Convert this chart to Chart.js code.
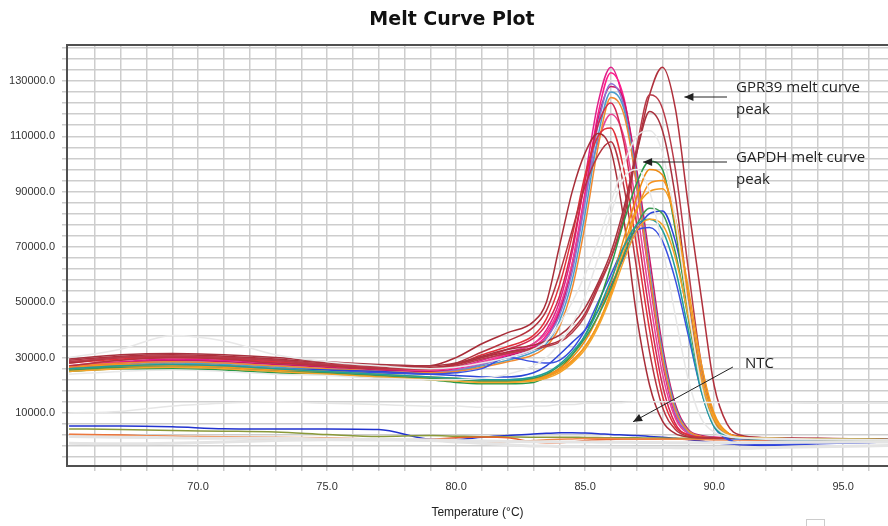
<!DOCTYPE html>
<html>
<head>
<meta charset="utf-8">
<script src="https://cdn.jsdelivr.net/npm/chart.js@4.4.1/dist/chart.umd.min.js"></script>
<style>
  html, body { margin: 0; padding: 0; background: #fff; }
  canvas { display: block; }
</style>
</head>
<body>
<canvas id="melt" width="888" height="526"></canvas>
<script>
// temperature steps (°C), shared by every well
const temps = [65, 67, 69, 71, 73, 75, 77, 79, 80, 81, 82, 83, 83.5, 84, 84.5, 85, 85.5, 86, 86.5, 87, 87.5, 88, 88.5, 89, 89.5, 90, 90.5, 91, 92, 94, 96.8];

// -dF/dT per well, in thousands
// faint grey (unselected wells)
const gray1 = [-1, -1.2, -1, -0.5, 0, 0.3, 0.2, 0, -0.5, -1, -1.5, -2, -2, -2.2, -2.2, -2.3, -2.3, -2.4, -2.4, -2.5, -2.5, -2.5, -2.6, -2.6, -2.7, -2.8, -2.8, -2.8, -2.6, -2.2, -1.8];
const gray2 = [10, 10.5, 12.5, 13.5, 14, 13.5, 13, 12.5, 12.5, 12, 12, 12.5, 12.5, 13, 13, 13.5, 13.5, 13.5, 13.8, 14, 14, 14, 14, 14, 13.8, 13.8, 13.7, 13.7, 13.7, 13.5, 13.5];
const gray3 = [30, 33, 38, 36, 31, 28.5, 27, 26, 26.5, 28, 30, 33, 36, 42, 50, 60, 72, 86, 100, 110, 112, 104, 80, 48, 20, 6, 2, 1, 0.8, 0.5, 0.3];
const gray4 = [24, 25, 25.5, 25, 24, 23.5, 22.5, 22, 22, 22.5, 24, 27, 30, 35, 42, 52, 66, 82, 95, 98, 90, 70, 45, 22, 8, 3, 1.5, 1, 0.5, 0.3, 0.2];
const gray5 = [1.5, 1.2, 1, 0.8, 0.8, 0.6, 0.4, 0.2, 0, -0.2, -0.3, -0.4, -0.4, -0.5, -0.5, -0.5, -0.6, -0.6, -0.6, -0.7, -0.7, -0.7, -0.8, -0.8, -0.8, -0.8, -0.8, -0.8, -0.7, -0.6, -0.5];

// GAPDH wells (peak ~87.5 °C)
const gapdh1 = [25, 26, 26, 25.5, 24.5, 24, 23, 22, 21, 20.5, 20.5, 21, 23, 26, 31, 38, 49, 63, 79, 93, 101, 98, 76, 46, 20, 6, 2, 1, 0.8, 0.6, 0.4];
const gapdh2 = [26, 27, 27, 26.5, 25.5, 24.5, 23.5, 22.5, 22, 21.5, 21.5, 22, 23.5, 26, 30, 36, 45, 57, 73, 88, 98, 96, 78, 48, 22, 7, 2.5, 1.2, 0.8, 0.5, 0.3];
const gapdh3 = [26.5, 27.5, 27.5, 27, 26, 25, 24, 23, 22.5, 22, 22, 22.5, 23.5, 25.5, 29, 34, 42, 53, 68, 83, 93, 94, 80, 52, 25, 9, 3, 1.3, 0.8, 0.5, 0.3];
const gapdh4 = [25.5, 26.5, 26.5, 26, 25, 24.5, 23.5, 22.5, 22, 21.5, 21.5, 22.5, 24, 27, 31, 37, 45, 55, 67, 78, 84, 82, 68, 44, 20, 6, 2, 1, 0.7, 0.5, 0.3];
const gapdh5 = [26, 27, 27.5, 27, 26, 25.5, 25, 24, 23.5, 23, 23, 24.5, 27, 31, 35.5, 40, 47, 56, 66, 76, 82, 83, 72, 50, 25, 8, 1, -1, -1.5, -1, -0.5];
const gapdh6 = [25.5, 26.5, 27, 26.5, 25.5, 25, 24.5, 24, 24.5, 26, 30, 28.5, 28, 29, 33, 40, 50, 60, 70, 76, 77, 72, 58, 38, 18, 5, 0.5, -1, -1.5, -1, -0.5];
const gapdh7 = [25, 26, 26.5, 26, 25, 24, 23, 22, 21.5, 21, 21, 21.5, 22.5, 24.5, 28, 33, 41, 52, 65, 76, 80, 78, 66, 45, 22, 8, 2.5, 1.2, 0.8, 0.5, 0.3];
const gapdh8 = [26, 27, 27.5, 27, 26, 25, 24, 23, 22.5, 22, 22, 23, 24.5, 27.5, 32, 38, 47, 58, 70, 78, 80, 76, 62, 40, 18, 5, 1.5, 0.8, 0.5, 0.3, 0.2];
const gapdh9 = [25.5, 26.5, 27, 26.5, 25.5, 24.5, 23.5, 22.5, 22, 21.5, 21.5, 22, 23, 25, 28.5, 34, 42, 54, 70, 84, 90, 91, 80, 55, 28, 10, 3, 1.2, 0.8, 0.5, 0.3];

// GPR39 wells, late dark red group (peak ~88 °C)
const late1 = [29, 30.5, 31, 30.5, 29.5, 28, 27, 26.5, 27.5, 30, 32, 33.5, 34.5, 36, 40, 46, 56, 66, 80, 104, 125, 135, 120, 85, 52, 20, 6, 2, 1, 0.8, 0.5];
const late2 = [28.5, 30, 30.5, 30, 29, 27.5, 26.5, 26, 27, 29.5, 31.5, 33, 34, 35.5, 39, 45, 55, 66, 82, 106, 125, 120, 98, 62, 28, 9, 3, 1.5, 1, 0.7, 0.4];
const late3 = [29.5, 31, 31.5, 31, 30, 28.5, 27.5, 27, 28, 30.5, 33, 34.5, 36, 38, 42, 48, 57, 68, 84, 104, 119, 112, 88, 52, 22, 7, 2.5, 1.5, 1, 0.6, 0.3];

// GPR39 wells (peak ~86 °C)
const early1 = [28, 30, 30.5, 30, 29, 27.5, 26.5, 27, 30, 35, 39, 43, 50, 70, 90, 104, 111, 105, 80, 45, 20, 7, 2.5, 1.3, 1, 0.9, 0.8, 0.8, 0.7, 0.5, 0.3];
const early2 = [27, 29, 30, 29.5, 28, 27, 26, 26, 28, 32, 36, 41, 47, 60, 76, 92, 103, 108, 92, 62, 32, 12, 4, 1.5, 1, 0.9, 0.8, 0.8, 0.7, 0.5, 0.3];
const gpr1 = [27, 28.5, 29.5, 29, 28, 27, 26, 25.5, 26.5, 29, 32, 35, 40, 50, 68, 95, 122, 135, 122, 92, 58, 28, 9, 3, 1.5, 1, 1, 0.8, 0.6, 0.4, 0.2];
const gpr2 = [26.5, 28, 29, 28.5, 27.5, 26.5, 25.5, 25, 26, 28, 31, 34, 38, 47, 64, 90, 118, 133, 124, 96, 62, 31, 11, 3.5, 1.5, 1.2, 1, 0.9, 0.7, 0.5, 0.3];
const gpr3 = [26, 27.5, 28.5, 28, 27, 26, 25, 24.5, 25.5, 27.5, 30, 33, 37, 45, 61, 86, 114, 129, 121, 93, 60, 30, 10, 3, 1.2, 0.8, 0.6, 0.5, 0.4, 0.2, 0];
const gpr4 = [25.5, 27, 28, 27.5, 26.5, 25.5, 24.5, 24, 25, 27, 29, 32, 35, 43, 58, 82, 110, 126, 120, 95, 62, 32, 12, 3.5, 1.5, 1, 0.8, 0.7, 0.5, 0.3, 0.1];
const gpr5 = [27, 28, 28.5, 28, 27, 26, 25, 24.5, 25, 26.5, 28.5, 31, 34, 41, 55, 78, 106, 124, 118, 93, 60, 30, 11, 3.5, 1.5, 1, 0.9, 0.8, 0.6, 0.4, 0.2];
const gpr6 = [28.5, 30, 30.5, 30, 29, 27.5, 26.5, 26, 27.5, 30, 33, 37, 42, 52, 70, 94, 114, 122, 108, 78, 46, 20, 6, 2, 1.2, 1, 0.9, 0.8, 0.6, 0.4, 0.2];
const gpr7 = [27, 29, 30, 29.5, 28.5, 27, 26, 25.5, 26.5, 28.5, 31.5, 35, 39, 48, 64, 88, 108, 118, 110, 84, 52, 24, 8, 2.5, 1.3, 1, 0.9, 0.8, 0.6, 0.4, 0.2];
const gpr8 = [28, 29.5, 30, 29.5, 28.5, 27, 26, 26, 27.5, 31, 34, 38, 44, 56, 74, 96, 110, 113, 98, 70, 40, 16, 5, 2, 1.2, 1, 0.9, 0.8, 0.6, 0.4, 0.2];
const gpr9 = [26, 28, 29, 28.5, 27.5, 26.5, 25.5, 25, 25.5, 27.5, 30.5, 33.5, 37, 46, 63, 88, 116, 128, 123, 98, 66, 34, 13, 4, 1.8, 1.2, 1, 0.9, 0.7, 0.5, 0.3];

// no template controls
const ntc1 = [5.3, 5.3, 5, 4.3, 4.2, 4.2, 4, 0.5, 0.4, 1.2, 1.8, 2.4, 2.6, 2.8, 2.8, 2.7, 2.5, 2.2, 2, 1.8, 1.5, 1.2, 0.8, 0.4, -0.2, -0.8, -1.2, -1.5, -1.8, -1.2, -0.5];
const ntc2 = [4.2, 4, 3.6, 3.4, 3.1, 2.2, 1.5, 1.8, 1.6, 1.4, 1.3, 1.2, 1.2, 1.2, 1.2, 1.1, 1.1, 1, 1, 1, 0.9, 0.9, 0.8, 0.8, 0.7, 0.6, 0.5, 0.5, 0.4, 0.3, 0.1];
const ntc3 = [2.3, 2, 1.5, 1, 0.5, 0.2, 0.2, 0.5, 1, 1.3, 1, -0.5, -0.8, -0.8, -0.5, 0, 0.3, 0.4, 0.5, 0.5, 0.5, 0.5, 0.5, 0.4, 0.4, 0.3, 0.3, 0.3, 0.2, 0, -0.2];
const ntc4 = [2, 1.8, 1.6, 1.4, 1.2, 1, 0.5, 0, -0.3, -0.5, -0.5, 0, 0.3, 0.5, 0.6, 0.7, 0.7, 0.7, 0.6, 0.6, 0.6, 0.5, 0.5, 0.5, 0.4, 0.4, 0.3, 0.3, 0.2, 0.1, 0];

// axis ticks
const xGrid = [66, 67, 68, 69, 70, 71, 72, 73, 74, 75, 76, 77, 78, 79, 80, 81, 82, 83, 84, 85, 86, 87, 88, 89, 90, 91, 92, 93, 94, 95, 96];
const xTickLabels = [70, 75, 80, 85, 90, 95];
const yTickLabels = [10000, 30000, 50000, 70000, 90000, 110000, 130000];
const yGridStep = 4000;

const chartTitle = 'Melt Curve Plot';
const notes = [
  { lines: ['GPR39 melt curve', 'peak'], text: [90.85, 127500], from: [90.5, 124200], to: [88.85, 124200] },
  { lines: ['GAPDH melt curve', 'peak'], text: [90.85, 102100], from: [90.5, 100700], to: [87.25, 100700] },
  { lines: ['NTC'], text: [91.2, 27700], from: [90.73, 26600], to: [86.86, 6800] }
];

// [values, colour, width] in draw order
const wells = [
  [gray2, '#e6e6e6', 1.5], [gray3, '#e8e8e8', 1.5], [gray4, '#e8e8e8', 1.5],
  [gray1, '#e4e4e4', 3], [gray5, '#e4e4e4', 3],
  [gapdh7, '#f5a42a'], [gapdh8, '#1f9e9a'], [gapdh4, '#3c9a55'], [gapdh9, '#f39a1e'],
  [gapdh3, '#f7931e'], [gapdh2, '#ee8a12'], [gapdh1, '#2a9a48'],
  [gapdh6, '#3a4fe0'], [gapdh5, '#2b45d8'],
  [late3, '#a8323e'], [late2, '#b83a48'], [late1, '#b0303c'],
  [early2, '#b5343f'], [early1, '#a82d38'],
  [gpr8, '#e0303a'], [gpr6, '#d4264f'], [gpr5, '#f08a30'], [gpr4, '#4a9ecc'],
  [gpr3, '#8e72d2'], [gpr7, '#e84393'], [gpr9, '#c8196a'], [gpr2, '#ff1a8c'], [gpr1, '#e0218a'],
  [ntc4, '#f0884a'], [ntc3, '#e8602a'], [ntc2, '#8a9a3a'], [ntc1, '#2233d0']
];

const datasets = wells.map(([vals, color, width]) => ({
  data: temps.map((t, i) => ({ x: t, y: vals[i] * 1000 })),
  borderColor: color,
  borderWidth: width || 1.5
}));

const decor = {
  id: 'decor',
  afterDatasetsDraw(chart) {
    const { ctx, chartArea: a, scales: { x, y } } = chart;
    ctx.save();
    // top frame line
    ctx.strokeStyle = '#505050';
    ctx.lineWidth = 2;
    ctx.beginPath();
    ctx.moveTo(a.left, a.top);
    ctx.lineTo(a.right, a.top);
    ctx.stroke();

    // title (sits a bit right of the canvas centre in the original)
    ctx.fillStyle = '#111';
    ctx.font = 'bold 19px "DejaVu Sans"';
    ctx.textAlign = 'center';
    ctx.textBaseline = 'middle';
    ctx.fillText(chartTitle, chart.width / 2 + 8, 20);

    ctx.fillStyle = '#222';
    ctx.strokeStyle = '#222';
    ctx.lineWidth = 1;
    ctx.font = '15px "Open Sans"';
    ctx.textAlign = 'left';
    notes.forEach(n => {
      const tx = x.getPixelForValue(n.text[0]);
      const ty = y.getPixelForValue(n.text[1]);
      n.lines.forEach((s, i) => ctx.fillText(s, tx, ty + i * 22));
      const x0 = x.getPixelForValue(n.from[0]), y0 = y.getPixelForValue(n.from[1]);
      const x1 = x.getPixelForValue(n.to[0]), y1 = y.getPixelForValue(n.to[1]);
      const ang = Math.atan2(y1 - y0, x1 - x0);
      ctx.beginPath();
      ctx.moveTo(x0, y0);
      ctx.lineTo(x1, y1);
      ctx.stroke();
      ctx.beginPath();
      ctx.moveTo(x1, y1);
      ctx.lineTo(x1 - 9 * Math.cos(ang) + 4 * Math.sin(ang), y1 - 9 * Math.sin(ang) - 4 * Math.cos(ang));
      ctx.lineTo(x1 - 9 * Math.cos(ang) - 4 * Math.sin(ang), y1 - 9 * Math.sin(ang) + 4 * Math.cos(ang));
      ctx.closePath();
      ctx.fill();
    });

    // little resize handle left in the screenshot
    ctx.strokeStyle = '#cccccc';
    ctx.strokeRect(806.5, 519.5, 18, 8);
    ctx.restore();
  }
};

const tickFont = { family: 'Liberation Sans', size: 11 };

new Chart(document.getElementById('melt'), {
  type: 'line',
  data: { datasets },
  options: {
    responsive: false,
    devicePixelRatio: 1,
    animation: false,
    layout: { padding: { left: 0, right: 0, top: 45, bottom: 0 } },
    elements: {
      point: { radius: 0 },
      line: { cubicInterpolationMode: 'monotone' }
    },
    plugins: {
      legend: { display: false },
      tooltip: { enabled: false },
      title: { display: false }
    },
    scales: {
      x: {
        type: 'linear',
        min: 64.92,
        max: 96.74,
        afterBuildTicks: ax => { ax.ticks = xGrid.map(v => ({ value: v })); },
        afterFit: ax => { ax.height = 60; },
        ticks: {
          autoSkip: false,
          maxRotation: 0,
          padding: 9,
          color: '#333',
          font: tickFont,
          callback: v => xTickLabels.includes(v) ? v.toFixed(1) : ''
        },
        grid: { color: '#cdcdcd', lineWidth: 1.5, tickLength: 5 },
        border: { color: '#505050', width: 2 },
        title: {
          display: true,
          text: 'Temperature (°C)',
          color: '#222',
          font: { family: 'Liberation Sans', size: 12 },
          padding: { top: 0, bottom: 6 }
        }
      },
      y: {
        type: 'linear',
        min: -9200,
        max: 143000,
        afterBuildTicks: ax => {
          const t = [];
          for (let v = -6000; v <= 142000; v += yGridStep) t.push({ value: v });
          ax.ticks = t;
        },
        afterFit: ax => { ax.width = 67; },
        ticks: {
          autoSkip: false,
          padding: 7,
          color: '#333',
          font: tickFont,
          callback: v => yTickLabels.includes(v) ? v.toFixed(1) : ''
        },
        grid: { color: '#cdcdcd', lineWidth: 1.5, tickLength: 5 },
        border: { color: '#505050', width: 2 }
      }
    }
  },
  plugins: [decor]
});
</script>
</body>
</html>
